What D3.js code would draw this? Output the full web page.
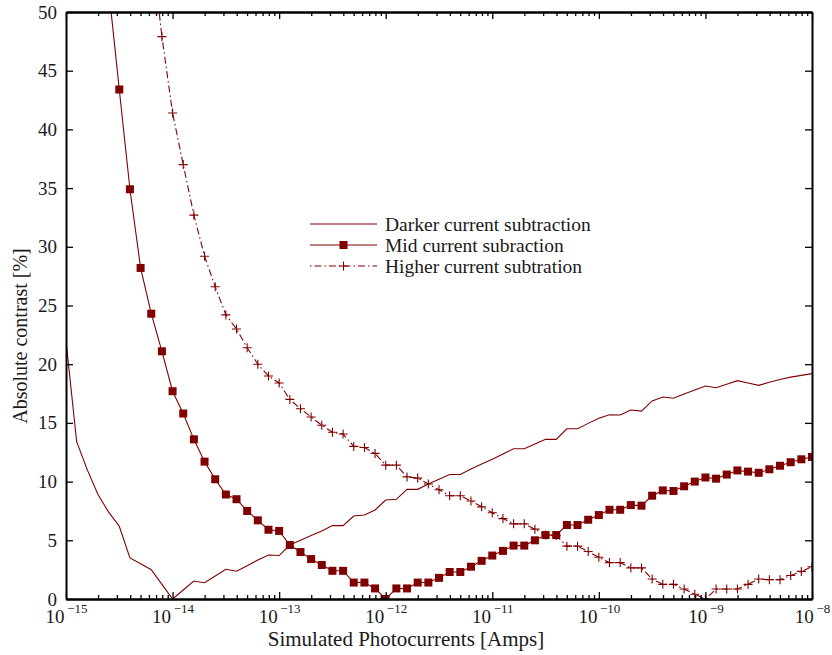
<!DOCTYPE html>
<html lang="en">
<head>
  <meta charset="UTF-8">
  <title>Absolute contrast vs simulated photocurrents</title>
  <script src="https://d3js.org/d3.v7.min.js"></script>
  <style>
    body {
      margin: 0;
      padding: 0;
      background: white;
    }
    svg {
      display: block;
      font-family: "Liberation Serif", "DejaVu Serif", serif;
    }
    .axis path, .axis line {
      stroke: #000;
    }
    .axis path {
      stroke-width: 2;
    }
    .axis line {
      stroke-width: 1.3;
    }
    .axis text {
      font-family: "Liberation Serif", "DejaVu Serif", serif;
      font-size: 19px;
      fill: #1a1a1a;
    }
  </style>
</head>
<body>
  <svg width="832" height="655"></svg>

  <script>
    // log10 of photocurrent, one sample every 0.1 decade
    const logCurrent = [
      -15.0, -14.9, -14.8, -14.7, -14.6, -14.5, -14.4, -14.3, -14.2, -14.1,
      -14.0, -13.9, -13.8, -13.7, -13.6, -13.5, -13.4, -13.3, -13.2, -13.1,
      -13.0, -12.9, -12.8, -12.7, -12.6, -12.5, -12.4, -12.3, -12.2, -12.1,
      -12.0, -11.9, -11.8, -11.7, -11.6, -11.5, -11.4, -11.3, -11.2, -11.1,
      -11.0, -10.9, -10.8, -10.7, -10.6, -10.5, -10.4, -10.3, -10.2, -10.1,
      -10.0, -9.9, -9.8, -9.7, -9.6, -9.5, -9.4, -9.3, -9.2, -9.1,
      -9.0, -8.9, -8.8, -8.7, -8.6, -8.5, -8.4, -8.3, -8.2, -8.1,
      -8.0
    ];

    const darker = [
      22.0, 13.4, 11.0, 8.9, 7.4, 6.2, 3.5, 3.0, 2.5, 1.25,
      0.0, 0.77, 1.53, 1.39, 1.96, 2.53, 2.36, 2.84, 3.32, 3.75,
      3.7, 4.6, 5.0, 5.4, 5.8, 6.25, 6.25, 7.07, 7.15, 7.58,
      8.43, 8.49, 9.34, 9.34, 9.8, 10.2, 10.6, 10.6, 11.07, 11.5,
      11.9, 12.35, 12.8, 12.8, 13.2, 13.6, 13.6, 14.5, 14.5, 14.96,
      15.39, 15.7, 15.67, 16.1, 16.0, 16.87, 17.2, 17.1, 17.46, 17.8,
      18.14, 18.0, 18.3, 18.6, 18.4, 18.2, 18.46, 18.7, 18.9, 19.05,
      19.2
    ];

    // null = not plotted
    const mid = [
      null, null, null, 63, 52, 43.4, 34.9, 28.2, 24.3, 21.1,
      17.7, 15.8, 13.6, 11.7, 10.2, 8.9, 8.5, 7.5, 6.7, 5.9,
      5.8, 4.6, 4.0, 3.4, 2.9, 2.4, 2.4, 1.4, 1.4, 0.9,
      0.0, 0.9, 0.9, 1.4, 1.4, 1.8, 2.3, 2.3, 2.75, 3.25,
      3.7, 4.1, 4.55, 4.55, 5.0, 5.45, 5.45, 6.3, 6.3, 6.75,
      7.15, 7.6, 7.6, 8.0, 7.95, 8.8, 9.25, 9.2, 9.6, 10.0,
      10.35, 10.25, 10.6, 10.95, 10.85, 10.75, 11.05, 11.35, 11.65, 11.9,
      12.1
    ];

    const higher = [
      null, null, null, null, null, null, null, null, 56, 47.9,
      41.4, 37.0, 32.7, 29.2, 26.6, 24.2, 23.0, 21.4, 20.0, 19.0,
      18.4, 17.0, 16.2, 15.5, 14.8, 14.2, 14.05, 13.0, 12.9, 12.4,
      11.4, 11.4, 10.4, 10.3, 9.8, 9.3, 8.8, 8.8, 8.35, 7.85,
      7.35, 6.85, 6.4, 6.4, 5.95, 5.45, 5.4, 4.5, 4.5, 4.05,
      3.55, 3.1, 3.1, 2.65, 2.65, 1.7, 1.25, 1.25, 0.85, 0.4,
      0.0, 0.85, 0.85, 0.85, 1.25, 1.7, 1.65, 1.65, 2.0, 2.35,
      2.75
    ];

    const seriesNames = ["Darker current subtraction", "Mid current subraction", "Higher current subtration"];
    const decadeExponents = [-15, -14, -13, -12, -11, -10, -9, -8];
    const yTicks = [0, 5, 10, 15, 20, 25, 30, 35, 40, 45, 50];

    const color = "#800000";
    const svg = d3.select("svg");
    const box = { left: 66, right: 812, top: 12, bottom: 599 };

    const x = d3.scaleLog().domain([1e-15, 1e-8]).range([box.left, box.right]);
    const y = d3.scaleLinear().domain([0, 50]).range([box.bottom, box.top]);

    const decades = decadeExponents.map(e => Math.pow(10, e));
    const minors = [];
    decades.slice(0, -1).forEach(d => {
      for (let m = 2; m <= 9; m++) minors.push(d * m);
    });

    // clip
    svg.append("defs").append("clipPath").attr("id", "plot-clip")
      .append("rect")
      .attr("x", box.left).attr("y", box.top)
      .attr("width", box.right - box.left).attr("height", box.bottom - box.top);

    const toPoints = vals => logCurrent
      .map((lc, i) => ({ x: Math.pow(10, lc), y: vals[i] }))
      .filter(d => d.y !== null);

    const line = d3.line().x(d => x(d.x)).y(d => y(d.y));

    const plot = svg.append("g").attr("clip-path", "url(#plot-clip)");

    plot.append("path")
      .datum(toPoints(darker))
      .attr("fill", "none")
      .attr("stroke", color)
      .attr("stroke-width", 1.1)
      .attr("d", line);

    plot.append("path")
      .datum(toPoints(mid))
      .attr("fill", "none")
      .attr("stroke", color)
      .attr("stroke-width", 1.1)
      .attr("d", line);

    plot.append("path")
      .datum(toPoints(higher))
      .attr("fill", "none")
      .attr("stroke", color)
      .attr("stroke-width", 1.1)
      .attr("stroke-dasharray", "7,3,1.5,3")
      .attr("d", line);

    const sq = 8;
    plot.selectAll("rect.mid")
      .data(toPoints(mid))
      .join("rect")
      .attr("class", "mid")
      .attr("x", d => x(d.x) - sq / 2)
      .attr("y", d => y(d.y) - sq / 2)
      .attr("width", sq)
      .attr("height", sq)
      .attr("fill", color);

    const plus = 4.5;
    plot.selectAll("path.plus")
      .data(toPoints(higher))
      .join("path")
      .attr("class", "plus")
      .attr("d", d => {
        const px = x(d.x), py = y(d.y);
        return `M${px - plus},${py}H${px + plus}M${px},${py - plus}V${py + plus}`;
      })
      .attr("stroke", color)
      .attr("stroke-width", 1.1);

    // axes, ticks pointing inward on all four sides
    const fmtTick = function (sel) {
      sel.selectAll(".tick text").each(function (d) {
        const t = d3.select(this).text(null);
        const e = Math.round(Math.log10(d));
        t.append("tspan").text("10");
        t.append("tspan").attr("dy", -10.5).attr("font-size", "13px").text("\u2009\u2212" + Math.abs(e));
      });
    };

    svg.append("g").attr("class", "axis")
      .attr("transform", `translate(0,${box.bottom})`)
      .call(d3.axisBottom(x).tickValues(minors).tickFormat("").tickSizeInner(-4).tickSizeOuter(0));
    svg.append("g").attr("class", "axis")
      .attr("transform", `translate(0,${box.bottom})`)
      .call(d3.axisBottom(x).tickValues(decades).tickSizeInner(-7).tickSizeOuter(0).tickPadding(24))
      .call(fmtTick)
      .selectAll(".tick text").attr("dy", null);

    svg.append("g").attr("class", "axis")
      .attr("transform", `translate(0,${box.top})`)
      .call(d3.axisTop(x).tickValues(minors).tickFormat("").tickSizeInner(-4).tickSizeOuter(0));
    svg.append("g").attr("class", "axis")
      .attr("transform", `translate(0,${box.top})`)
      .call(d3.axisTop(x).tickValues(decades).tickFormat("").tickSizeInner(-7).tickSizeOuter(0));

    svg.append("g").attr("class", "axis")
      .attr("transform", `translate(${box.left},0)`)
      .call(d3.axisLeft(y).tickValues(yTicks).tickSizeInner(-7).tickSizeOuter(0).tickPadding(9));
    svg.append("g").attr("class", "axis")
      .attr("transform", `translate(${box.right},0)`)
      .call(d3.axisRight(y).tickValues(yTicks).tickFormat("").tickSizeInner(-7).tickSizeOuter(0));

    // axis titles
    svg.append("text")
      .attr("x", 406)
      .attr("y", 646)
      .attr("text-anchor", "middle")
      .attr("font-size", "21px")
      .attr("fill", "#1a1a1a")
      .text("Simulated Photocurrents [Amps]");

    svg.append("text")
      .attr("transform", "translate(27,336) rotate(-90)")
      .attr("text-anchor", "middle")
      .attr("font-size", "20px")
      .attr("fill", "#1a1a1a")
      .text("Absolute contrast [%]");

    // legend
    const legend = svg.append("g").attr("transform", "translate(310,224)");
    const rowGap = 21;
    seriesNames.forEach((name, i) => {
      const g = legend.append("g").attr("transform", `translate(0,${i * rowGap})`);
      const ln = g.append("line")
        .attr("x1", 0).attr("x2", 67).attr("y1", 0).attr("y2", 0)
        .attr("stroke", color).attr("stroke-width", 1.1);
      if (i === 1) {
        g.append("rect").attr("x", 33.5 - sq / 2).attr("y", -sq / 2)
          .attr("width", sq).attr("height", sq).attr("fill", color);
      }
      if (i === 2) {
        ln.attr("stroke-dasharray", "1.5,3,7,3");
        g.append("path")
          .attr("d", `M${33.5 - plus},0H${33.5 + plus}M33.5,${-plus}V${plus}`)
          .attr("stroke", color).attr("stroke-width", 1.1);
      }
      g.append("text")
        .attr("x", 75)
        .attr("y", 0)
        .attr("dy", "0.35em")
        .attr("font-size", "19.5px")
        .attr("fill", "#1a1a1a")
        .text(name);
    });
  </script>
</body>
</html>
